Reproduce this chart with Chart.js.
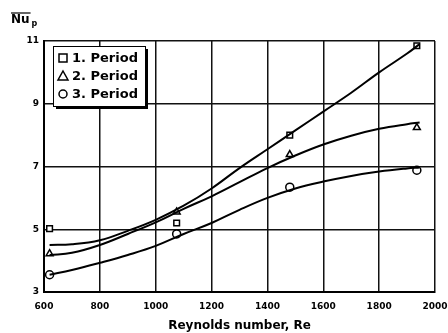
<!DOCTYPE html>
<html>
<head>
<meta charset="utf-8">
<script src="https://cdn.jsdelivr.net/npm/chart.js@4"></script>
<style>
  html, body { margin: 0; padding: 0; background: #fff; }
  #wrap { width: 448px; height: 333px; }
</style>
</head>
<body>
<div id="wrap"><canvas id="chart" width="448" height="333"></canvas></div>
<script>
// measured points, Re vs mean Nu_p
const reynolds = [620, 1075, 1480, 1935];
const period1 = [5.02, 5.2, 8.0, 10.85];
const period2 = [4.22, 5.55, 7.38, 8.24];
const period3 = [3.55, 4.85, 6.34, 6.88];

// fitted curves
const fitRe = [620, 700, 800, 900, 1000, 1100, 1200, 1300, 1400, 1500, 1600, 1700, 1800, 1900, 1945];
const fit1 = [4.5, 4.52, 4.65, 4.95, 5.3, 5.75, 6.3, 6.95, 7.55, 8.15, 8.75, 9.35, 10.0, 10.6, 10.9];
const fit2 = [4.18, 4.25, 4.5, 4.85, 5.22, 5.65, 6.05, 6.5, 6.95, 7.35, 7.7, 7.98, 8.2, 8.35, 8.4];
const fit3 = [3.55, 3.7, 3.93, 4.18, 4.47, 4.85, 5.2, 5.62, 6.0, 6.3, 6.52, 6.7, 6.84, 6.94, 6.97];

const legendLabels = ['1. Period', '2. Period', '3. Period'];
const markerStyles = ['rect', 'triangle', 'circle'];

const xTicks = [600, 800, 1000, 1200, 1400, 1600, 1800, 2000];
const yTicks = [3, 5, 7, 9, 11];

function pts(xs, ys) {
    return xs.map((x, i) => ({ x: x, y: ys[i] }));
}

const FONT = 'DejaVu Sans';

const markerSets = [period1, period2, period3].map((vals, i) => ({
    label: legendLabels[i],
    data: pts(reynolds, vals),
    showLine: false,
    pointStyle: markerStyles[i],
    pointRadius: 4,
    pointBorderColor: '#000',
    pointBackgroundColor: '#fff',
    pointBorderWidth: 1.5
}));

const fitSets = [fit1, fit2, fit3].map(vals => ({
    label: '',
    data: pts(fitRe, vals),
    showLine: true,
    borderColor: '#000',
    borderWidth: 2,
    pointRadius: 0,
    tension: 0.4,
    fill: false
}));

// Nu_p title and boxed legend with shadow
const extras = {
    id: 'extras',
    afterDraw(chart) {
        const ctx = chart.ctx;
        ctx.save();
        ctx.fillStyle = '#000';
        ctx.strokeStyle = '#000';

        // y title
        ctx.font = 'bold 12px ' + FONT;
        ctx.textBaseline = 'alphabetic';
        ctx.textAlign = 'left';
        ctx.fillText('Nu', 11, 23);
        const w = ctx.measureText('Nu').width;
        ctx.lineWidth = 1.2;
        ctx.beginPath();
        ctx.moveTo(11, 13);
        ctx.lineTo(11 + w + 1, 13);
        ctx.stroke();
        ctx.font = 'bold 8px ' + FONT;
        ctx.fillText('p', 11 + w + 2, 26);

        // legend box
        const bx = 53, by = 46, bw = 92, bh = 60;
        ctx.fillRect(bx + 3, by + 3, bw, bh);
        ctx.fillStyle = '#fff';
        ctx.fillRect(bx, by, bw, bh);
        ctx.lineWidth = 1;
        ctx.strokeRect(bx + 0.5, by + 0.5, bw, bh);

        ctx.font = 'bold 13px ' + FONT;
        ctx.textBaseline = 'middle';
        for (let i = 0; i < legendLabels.length; i++) {
            const y = by + 12 + i * 18;
            ctx.lineWidth = 1.5;
            ctx.strokeStyle = '#000';
            ctx.beginPath();
            if (markerStyles[i] === 'rect') {
                ctx.rect(59, y - 4, 8, 8);
            } else if (markerStyles[i] === 'triangle') {
                ctx.moveTo(63, y - 5);
                ctx.lineTo(68, y + 4);
                ctx.lineTo(58, y + 4);
                ctx.closePath();
            } else {
                ctx.arc(63, y, 4, 0, Math.PI * 2);
            }
            ctx.stroke();
            ctx.fillStyle = '#000';
            ctx.fillText(legendLabels[i], 72, y + 1);
        }
        ctx.restore();
    }
};

new Chart(document.getElementById('chart'), {
    type: 'scatter',
    data: { datasets: fitSets.concat(markerSets) },
    options: {
        responsive: false,
        animation: false,
        layout: { padding: { left: 0, right: 13, top: 41, bottom: 0 } },
        plugins: {
            legend: { display: false },
            tooltip: { enabled: false }
        },
        scales: {
            x: {
                type: 'linear',
                min: 600,
                max: 2000,
                afterBuildTicks(scale) {
                    scale.ticks = xTicks.map(v => ({ value: v }));
                },
                afterFit(scale) {
                    scale.height = 41;
                    scale.paddingLeft = 0;
                    scale.paddingRight = 0;
                },
                grid: { color: '#111', lineWidth: 1.5, drawTicks: false },
                border: { color: '#000', width: 2 },
                ticks: {
                    color: '#000',
                    padding: 9,
                    maxRotation: 0,
                    callback: v => String(v),
                    font: { family: FONT, size: 9, weight: 'bold' }
                },
                title: {
                    display: true,
                    text: 'Reynolds number, Re',
                    color: '#000',
                    padding: { top: 2, bottom: 0 },
                    font: { family: FONT, size: 12, weight: 'bold' }
                }
            },
            y: {
                min: 3,
                max: 11,
                afterBuildTicks(scale) {
                    scale.ticks = yTicks.map(v => ({ value: v }));
                },
                afterFit(scale) {
                    scale.width = 44;
                    scale.paddingTop = 0;
                    scale.paddingBottom = 0;
                },
                grid: { color: '#111', lineWidth: 1.5, drawTicks: false },
                border: { color: '#000', width: 2 },
                ticks: {
                    color: '#000',
                    padding: 5,
                    callback: v => String(v),
                    font: { family: FONT, size: 9, weight: 'bold' }
                }
            }
        }
    },
    plugins: [extras]
});
</script>
</body>
</html>
